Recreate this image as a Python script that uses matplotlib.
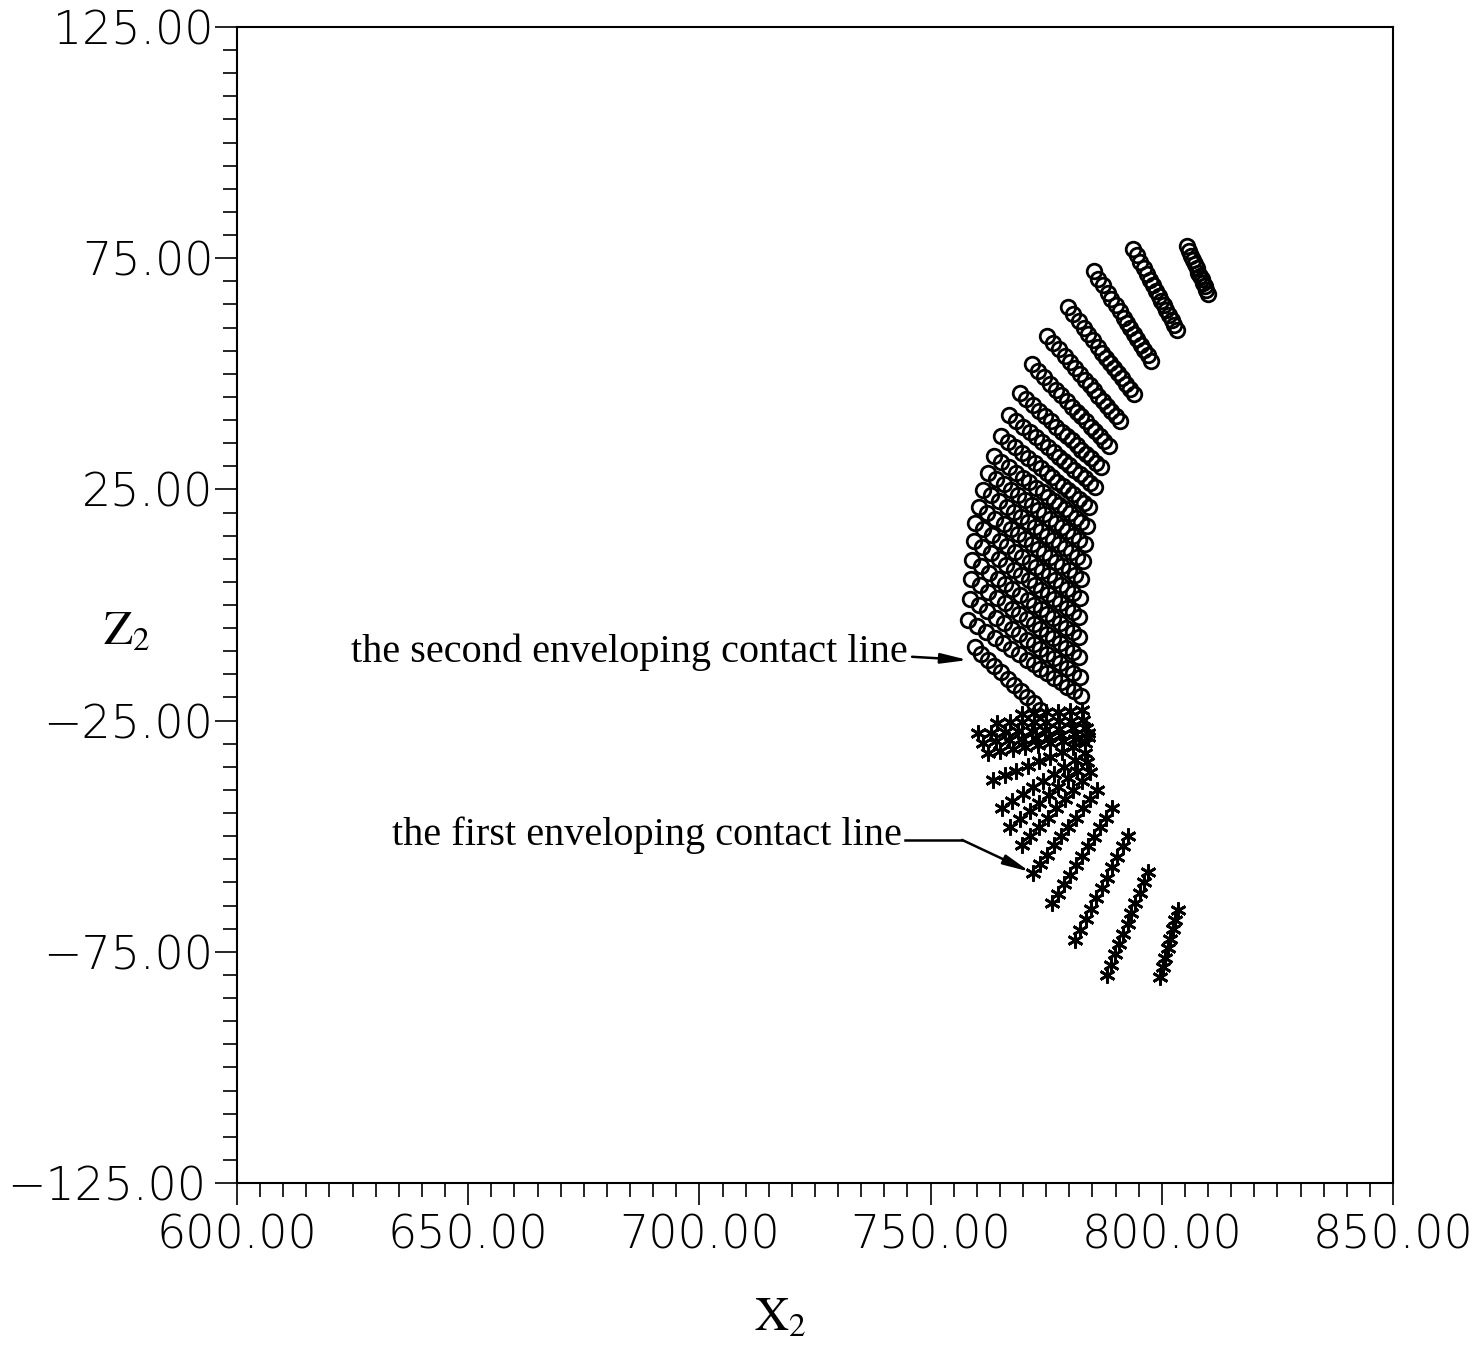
import matplotlib.pyplot as plt
from matplotlib.ticker import MultipleLocator, FixedLocator, FuncFormatter
from matplotlib.transforms import ScaledTranslation

# second enveloping contact lines (drawn as circles), one row per line, top to bottom
second_x = [
    [805.4, 805.9, 806.3, 806.7, 807.2, 807.6, 807.9, 808.3, 808.6, 808.9, 809.3, 809.6, 810.0],
    [793.8, 794.6, 795.3, 796.1, 796.8, 797.4, 798.1, 798.7, 799.3, 799.9, 800.5, 801.0, 801.6, 802.2, 802.7, 803.3],
    [785.3, 786.3, 787.3, 788.3, 789.1, 790.0, 790.9, 791.8, 792.5, 793.2, 794.0, 794.7, 795.5, 796.2, 797.0, 797.7],
    [779.7, 780.8, 782.0, 783.1, 784.1, 785.1, 786.1, 787.1, 788.0, 788.9, 789.7, 790.6, 791.4, 792.3, 793.1, 794.0],
    [775.2, 776.5, 777.7, 779.0, 780.1, 781.2, 782.3, 783.4, 784.4, 785.3, 786.3, 787.2, 788.2, 789.1, 790.1, 791.0],
    [771.9, 773.2, 774.6, 775.9, 777.1, 778.3, 779.4, 780.6, 781.6, 782.6, 783.6, 784.6, 785.6, 786.6, 787.6, 788.6],
    [769.3, 770.7, 772.1, 773.5, 774.7, 776.0, 777.2, 778.4, 779.5, 780.5, 781.6, 782.6, 783.7, 784.7, 785.8, 786.8],
    [767.0, 768.5, 770.0, 771.5, 772.8, 774.1, 775.4, 776.7, 777.8, 778.9, 780.0, 781.1, 782.3, 783.4, 784.5, 785.6],
    [765.2, 766.7, 768.3, 769.8, 771.1, 772.5, 773.8, 775.1, 776.3, 777.4, 778.6, 779.7, 780.9, 782.0, 783.2, 784.3],
    [763.7, 765.3, 766.9, 768.5, 769.9, 771.3, 772.8, 774.2, 775.4, 776.6, 777.8, 779.0, 780.2, 781.4, 782.6, 783.8],
    [762.4, 764.1, 765.8, 767.4, 768.9, 770.4, 771.9, 773.3, 774.6, 775.8, 777.1, 778.4, 779.6, 780.9, 782.1, 783.4],
    [761.3, 763.0, 764.8, 766.5, 768.0, 769.5, 771.0, 772.5, 773.8, 775.1, 776.4, 777.7, 779.0, 780.3, 781.6, 782.9],
    [760.5, 762.3, 764.0, 765.8, 767.3, 768.9, 770.4, 771.9, 773.3, 774.6, 775.9, 777.2, 778.5, 779.9, 781.2, 782.5],
    [759.6, 761.4, 763.2, 765.1, 766.6, 768.2, 769.8, 771.4, 772.8, 774.1, 775.5, 776.9, 778.2, 779.6, 780.9, 782.3],
    [759.4, 761.2, 763.0, 764.9, 766.4, 768.0, 769.6, 771.2, 772.6, 773.9, 775.3, 776.7, 778.0, 779.4, 780.7, 782.1],
    [758.9, 760.8, 762.6, 764.5, 766.1, 767.7, 769.3, 771.0, 772.4, 773.8, 775.1, 776.5, 777.9, 779.3, 780.7, 782.1],
    [758.7, 760.6, 762.4, 764.3, 766.0, 767.6, 769.2, 770.9, 772.3, 773.7, 775.1, 776.5, 777.9, 779.3, 780.7, 782.1],
    [758.5, 760.4, 762.3, 764.2, 765.9, 767.5, 769.2, 770.9, 772.3, 773.7, 775.2, 776.6, 778.0, 779.4, 780.9, 782.3],
    [758.1, 760.1, 762.0, 764.0, 765.7, 767.4, 769.1, 770.8, 772.3, 773.7, 775.2, 776.6, 778.1, 779.6, 781.0, 782.5],
    [759.6, 761.0, 762.4, 763.8, 765.2, 766.7, 768.1, 769.5, 770.9, 772.3, 773.7],
]
second_z = [
    [77.6, 76.6, 75.5, 74.6, 73.7, 72.8, 71.9, 71.1, 70.4, 69.7, 69.0, 68.1, 67.3],
    [77.0, 75.6, 74.2, 72.8, 71.6, 70.3, 69.1, 67.9, 66.9, 65.8, 64.8, 63.7, 62.7, 61.6, 60.6, 59.5],
    [72.2, 70.6, 69.1, 67.5, 66.2, 64.8, 63.5, 62.1, 61.0, 59.8, 58.6, 57.5, 56.3, 55.1, 54.0, 52.8],
    [64.4, 62.9, 61.4, 59.9, 58.6, 57.3, 55.9, 54.6, 53.5, 52.4, 51.2, 50.1, 49.0, 47.9, 46.7, 45.6],
    [58.2, 56.7, 55.3, 53.8, 52.5, 51.2, 49.9, 48.6, 47.5, 46.4, 45.3, 44.2, 43.1, 42.0, 40.9, 39.8],
    [52.1, 50.7, 49.3, 47.9, 46.6, 45.4, 44.1, 42.9, 41.8, 40.8, 39.7, 38.6, 37.6, 36.5, 35.5, 34.4],
    [45.8, 44.5, 43.2, 42.0, 40.8, 39.7, 38.6, 37.5, 36.5, 35.6, 34.6, 33.6, 32.7, 31.7, 30.8, 29.8],
    [41.1, 39.9, 38.6, 37.4, 36.3, 35.2, 34.1, 33.0, 32.1, 31.1, 30.2, 29.2, 28.3, 27.4, 26.4, 25.5],
    [36.5, 35.3, 34.1, 32.8, 31.8, 30.7, 29.6, 28.5, 27.6, 26.7, 25.8, 24.9, 24.0, 23.0, 22.1, 21.2],
    [32.2, 31.0, 29.8, 28.6, 27.5, 26.5, 25.4, 24.4, 23.4, 22.5, 21.6, 20.7, 19.8, 18.9, 18.0, 17.1],
    [28.5, 27.3, 26.1, 24.8, 23.8, 22.7, 21.6, 20.5, 19.6, 18.7, 17.8, 16.9, 16.0, 15.0, 14.1, 13.2],
    [24.9, 23.7, 22.4, 21.2, 20.1, 19.1, 18.0, 16.9, 16.0, 15.0, 14.1, 13.2, 12.3, 11.4, 10.4, 9.5],
    [21.2, 20.0, 18.7, 17.5, 16.4, 15.3, 14.2, 13.1, 12.2, 11.2, 10.3, 9.3, 8.4, 7.5, 6.5, 5.6],
    [17.7, 16.4, 15.1, 13.8, 12.7, 11.5, 10.4, 9.3, 8.3, 7.3, 6.4, 5.4, 4.4, 3.4, 2.5, 1.5],
    [13.8, 12.5, 11.2, 9.9, 8.7, 7.6, 6.4, 5.3, 4.3, 3.3, 2.3, 1.3, 0.4, -0.6, -1.6, -2.6],
    [9.7, 8.4, 7.0, 5.7, 4.6, 3.4, 2.2, 1.1, 0.1, -0.9, -1.9, -2.9, -3.9, -4.9, -5.9, -6.9],
    [5.6, 4.3, 2.9, 1.6, 0.4, -0.8, -2.0, -3.1, -4.1, -5.2, -6.2, -7.2, -8.2, -9.2, -10.2, -11.2],
    [1.3, -0.1, -1.4, -2.8, -3.9, -5.1, -6.3, -7.5, -8.5, -9.5, -10.5, -11.5, -12.6, -13.6, -14.6, -15.6],
    [-3.2, -4.5, -5.8, -7.2, -8.3, -9.5, -10.6, -11.8, -12.8, -13.8, -14.8, -15.7, -16.7, -17.7, -18.7, -19.7],
    [-9.1, -10.5, -11.8, -13.2, -14.5, -15.9, -17.3, -18.6, -20.0, -21.3, -22.7],
]

# first enveloping contact lines (drawn as asterisks), bottom-right line first
first_x = [
    [799.6, 800.2, 800.7, 801.3, 801.8, 802.4, 802.9, 803.5],
    [788.1, 789.0, 789.9, 790.8, 791.7, 792.6, 793.4, 794.3, 795.2, 796.1, 797.0],
    [781.2, 782.4, 783.5, 784.7, 785.8, 787.0, 788.1, 789.3, 790.4, 791.6, 792.7],
    [776.3, 777.6, 778.9, 780.2, 781.5, 782.8, 784.0, 785.3, 786.6, 787.9, 789.2],
    [772.1, 773.6, 775.2, 776.7, 778.3, 779.8, 781.4, 782.9, 784.5, 786.0],
    [769.8, 771.6, 773.5, 775.3, 777.2, 779.0, 780.8, 782.7, 784.5],
    [767.2, 769.3, 771.4, 773.4, 775.5, 777.6, 779.7, 781.7, 783.8],
    [765.4, 767.7, 769.9, 772.2, 774.4, 776.7, 778.9, 781.2, 783.4],
    [763.5, 766.0, 768.5, 771.0, 773.5, 775.9, 778.4, 780.9, 783.4],
    [762.4, 765.1, 767.8, 770.5, 773.2, 775.9, 778.6, 781.3, 784.0],
    [761.3, 764.1, 767.0, 769.8, 772.7, 775.5, 778.3, 781.2, 784.0],
    [760.2, 763.1, 766.1, 769.0, 771.9, 774.8, 777.8, 780.7, 783.6],
    [764.4, 767.1, 769.7, 772.4, 775.0, 777.7, 780.3, 783.0],
    [769.8, 772.4, 775.0, 777.5, 780.1, 782.7],
]
first_z = [
    [-80.4, -78.3, -76.3, -74.2, -72.2, -70.1, -68.1, -66.0],
    [-80.0, -77.8, -75.5, -73.3, -71.1, -68.9, -66.6, -64.4, -62.2, -59.9, -57.7],
    [-72.4, -70.2, -67.9, -65.7, -63.4, -61.2, -59.0, -56.7, -54.5, -52.2, -50.0],
    [-64.4, -62.4, -60.3, -58.3, -56.2, -54.2, -52.1, -50.1, -48.0, -46.0, -43.9],
    [-58.0, -56.0, -54.0, -52.0, -50.0, -48.0, -46.0, -44.0, -42.0, -40.0],
    [-51.9, -49.9, -48.0, -46.0, -44.0, -42.0, -40.0, -38.1, -36.1],
    [-48.0, -46.3, -44.5, -42.8, -41.0, -39.3, -37.5, -35.8, -34.0],
    [-43.9, -42.4, -40.9, -39.4, -38.0, -36.5, -35.0, -33.5, -32.0],
    [-37.8, -36.8, -35.8, -34.8, -33.8, -32.8, -31.8, -30.8, -29.8],
    [-32.0, -31.6, -31.1, -30.7, -30.3, -29.8, -29.4, -28.9, -28.5],
    [-29.8, -29.5, -29.3, -29.0, -28.8, -28.5, -28.2, -28.0, -27.7],
    [-27.7, -27.6, -27.4, -27.3, -27.2, -27.0, -26.9, -26.7, -26.6],
    [-25.5, -25.4, -25.3, -25.2, -25.2, -25.1, -25.0, -24.9],
    [-23.6, -23.4, -23.2, -23.1, -22.9, -22.7],
]

y_tick_values = [-125, -75, -25, 25, 75, 125]
second_label = "the second enveloping contact line"
first_label = "the first enveloping contact line"

# figure / axes
fig = plt.figure(figsize=(14.74, 13.47), dpi=100)
ax = fig.add_axes([237 / 1474, 1 - 1183 / 1347, 1156 / 1474, 1156 / 1347])

for xs, zs in zip(second_x, second_z):
    ax.plot(xs, zs, ls='none', marker='o', ms=10.5, mfc='none', mec='black', mew=2.0)

for xs, zs in zip(first_x, first_z):
    ax.plot(xs, zs, ls='none', marker=(6, 2, 0), ms=11.5, mec='black', mew=2.0)

ax.set_xlim(600, 850)
ax.set_ylim(-125, 125)

# ticks: labelled every 50, small ticks every 5
ax.xaxis.set_major_locator(MultipleLocator(50))
ax.xaxis.set_minor_locator(MultipleLocator(5))
ax.yaxis.set_major_locator(FixedLocator(y_tick_values))
ax.yaxis.set_minor_locator(MultipleLocator(5))

fmt = FuncFormatter(lambda v, pos: f"{v:.2f}".replace('-', '\u2212'))
ax.xaxis.set_major_formatter(fmt)
ax.yaxis.set_major_formatter(fmt)

ax.tick_params(which='both', direction='out', top=False, right=False, colors='black')
ax.tick_params(which='major', length=16, width=1.2, labelsize=33)
ax.tick_params(axis='x', which='major', pad=6)
ax.tick_params(axis='y', which='major', pad=1)
ax.tick_params(which='minor', length=10, width=1.2)
for lbl in ax.get_xticklabels() + ax.get_yticklabels():
    lbl.set_fontweight('light')
for sp in ax.spines.values():
    sp.set_linewidth(1.5)

# the lowest z label sits a little further left, clear of the x labels
low = ax.yaxis.get_major_ticks()[0].label1
low.set_transform(low.get_transform() + ScaledTranslation(-5 / 72, 0, fig.dpi_scale_trans))

# axis titles
fig.text(780 / 1474, 1 - 1318 / 1347, r'$\mathrm{X}_{2}$', fontsize=34,
         math_fontfamily='stix', ha='center', va='center')
fig.text(127 / 1474, 1 - 632 / 1347, r'$\mathrm{Z}_{2}$', fontsize=34,
         math_fontfamily='stix', ha='center', va='center')

# annotations
ax.text(745.1, -10.2, second_label, family='Liberation Serif', fontsize=29,
        ha='right', va='center')
ax.annotate('', xy=(758.1, -11.9), xytext=(746.0, -11.2),
            arrowprops=dict(arrowstyle='-|>,head_length=0.8,head_width=0.15',
                            mutation_scale=20, color='black', lw=1.8, shrinkA=0, shrinkB=0))

ax.text(743.8, -49.7, first_label, family='Liberation Serif', fontsize=29,
        ha='right', va='center')
ax.plot([744.5, 756.8], [-50.8, -50.8], color='black', lw=1.8)
ax.annotate('', xy=(771.5, -57.7), xytext=(756.8, -50.8),
            arrowprops=dict(arrowstyle='-|>,head_length=0.8,head_width=0.15',
                            mutation_scale=20, color='black', lw=1.8, shrinkA=0, shrinkB=0))

fig.savefig("out.png", dpi=100)
